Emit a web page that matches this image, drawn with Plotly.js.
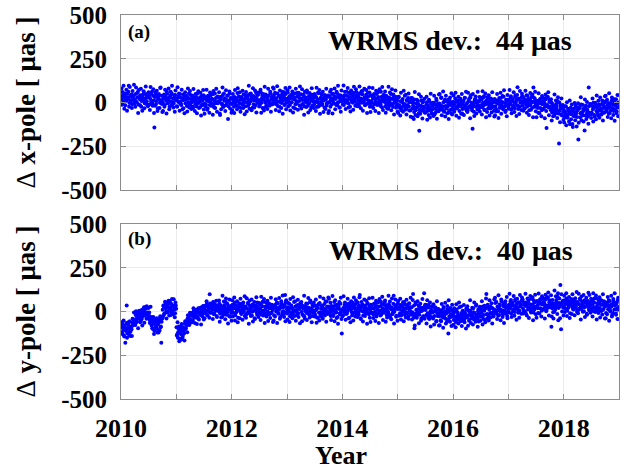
<!DOCTYPE html>
<html>
<head>
<meta charset="utf-8">
<script src="https://cdn.plot.ly/plotly-3.0.1.min.js"></script>
<style>html,body{margin:0;padding:0;background:#fff;}#chart{width:620px;height:469px;}</style>
</head>
<body>
<div id="chart"></div>
<script>
// ---- Data (µas; two interleaved session sets of 80 epochs per year) ----
const years = [2010, 2011, 2012, 2013, 2014, 2015, 2016, 2017, 2018];
const xTickVals = [2010, 2011, 2012, 2013, 2014, 2015, 2016, 2017, 2018, 2019];
const xTickText = ['2010', '', '2012', '', '2014', '', '2016', '', '2018', ''];
const yTickVals = [-500, -250, 0, 250, 500];
const yTickText = ['-500', '-250', '0', '250', '500'];
const wrmsX = 44;
const wrmsY = 40;

// x-pole, session set A
const xPole2010 = [37,17,60,3,29,43,-16,32,10,51,22,95,-3,34,13,46,-10,27,40,6,
  14,49,3,28,60,-11,33,18,42,-25,25,37,11,53,-4,21,47,7,30,-17,
  34,-11,21,53,4,-5,39,11,-143,-18,45,8,31,-33,18,40,-1,85,14,-8,
  1,22,46,-14,35,10,61,-3,15,29,-24,38,5,51,-12,23,-6,26,43,13];
const xPole2011 = [15,-24,27,36,-2,49,4,-15,23,13,-33,31,42,-5,19,-20,28,2,51,-7,
  -17,20,2,39,-32,15,29,-9,11,-23,50,-4,24,4,-27,32,-15,9,18,42,
  35,-6,-22,14,27,-35,7,21,-14,40,-1,17,-19,48,-8,12,-31,25,1,30,
  -4,28,6,-72,19,33,-11,43,-25,10,24,-16,15,-2,38,-21,5,52,-7,23];
const xPole2012 = [-9,25,12,-25,31,-2,19,-18,54,7,36,-5,17,-31,28,14,-12,45,2,22,
  -22,25,2,42,16,-9,48,6,32,20,-30,37,13,28,-16,55,23,-2,44,9,
  -8,14,57,-1,40,18,-33,31,8,45,-18,26,11,39,-5,4,53,21,-11,34,
  13,43,26,-6,23,-12,51,5,38,-24,29,15,-3,61,10,35,-14,46,22,1];
const xPole2013 = [-2,56,7,33,-15,24,0,47,36,-28,18,28,-10,9,54,3,41,32,-19,20,
  47,23,14,-10,37,-22,9,29,1,55,-18,16,-4,34,20,-27,44,7,25,-12,
  35,6,30,-26,17,-3,53,-14,22,4,45,-9,26,12,-30,32,19,-17,-1,40,
  33,3,62,15,-11,48,8,25,-6,34,20,-15,53,-1,43,29,-29,16,38,6];
const xPole2014 = [8,28,-15,42,16,2,61,13,35,-6,23,-24,48,11,32,-1,55,18,5,39,
  26,-9,37,12,-20,51,7,22,-2,65,15,3,29,-13,44,19,-7,33,10,57,
  -4,41,9,-23,26,35,-9,19,4,48,-15,22,-1,63,12,-10,31,-27,16,38,
  24,3,-21,39,-10,15,-36,28,10,-4,49,-13,20,-26,37,2,31,-1,-18,12];
const xPole2015 = [-10,29,-22,-31,7,-44,1,20,-18,-8,38,-26,-37,10,-14,25,-23,3,-46,12,
  2,-35,-17,-95,17,-30,-44,-6,-26,8,-65,-162,-39,-19,12,-47,0,-24,-33,-57,
  -55,-14,2,-34,-47,15,-27,-41,-6,-60,-19,-37,-1,-68,-12,-32,11,-45,-21,-50,
  -6,-38,-16,29,-29,-43,1,-53,15,-20,-34,6,-25,-8,-48,11,-15,-62,-3,-33];
const xPole2016 = [4,-41,-9,23,-26,-35,9,-19,-4,-48,15,-22,1,-63,-12,10,-31,27,-16,-38,
  -5,-44,7,16,-22,29,-16,-35,-150,-7,-53,11,22,-25,-1,-40,8,-18,31,-27,
  -16,19,-27,-2,30,-41,3,-12,12,-55,-5,7,-19,23,-34,-9,17,-23,0,-47,
  20,-21,-37,-1,12,-50,-8,6,-29,25,-16,2,-34,33,-23,-3,-46,10,-14,15];
const xPole2017 = [-27,10,-8,29,-42,5,19,-19,1,-33,40,-14,14,87,-37,22,-25,-1,8,32,
  -19,2,26,-34,15,-10,41,-23,-5,9,-44,18,-15,31,-32,3,85,6,23,-7,
  -24,8,-14,-59,-1,13,-31,23,-45,-10,4,-36,-5,-22,18,-146,-15,32,-27,3,
  -23,-43,0,-57,-31,-17,-76,-28,-50,-9,-38,9,-63,-235,-47,-14,-70,-33,-20,-54];
const xPole2018 = [-41,-86,-54,-22,-71,-80,-36,-64,-49,-125,-30,-67,-44,-140,-57,-35,-76,-18,-61,-83,
  -45,-212,-33,-24,-62,-11,-56,-75,-37,-47,-160,-29,-18,-65,-41,-80,85,-58,-9,-67,
  -57,-20,-38,-1,-72,-25,-11,-49,-29,-63,10,-44,-16,-36,-67,-8,-55,-31,-22,2,
  5,-36,-52,-16,-3,-65,-23,-9,-44,10,-31,-13,-49,18,-38,-18,-61,-5,-29,0];

// x-pole, session set B
const xPoleB2010 = [80,-13,37,95,-36,52,11,73,-47,30,61,-24,88,3,43,-32,66,19,102,-6,
  -25,86,1,54,-60,71,28,-16,79,9,-47,45,64,-33,23,92,-8,35,-22,58,
  44,-43,89,6,61,-18,76,-60,32,55,-9,67,-49,25,48,-32,83,-1,39,-55,
  -48,36,-25,73,21,-63,50,-5,80,-39,28,62,-15,95,3,-29,41,-53,68,16];
const xPoleB2011 = [-21,87,4,51,-47,28,-12,73,-39,46,15,-62,58,-4,37,-51,80,22,-28,65,
  43,-37,20,-23,77,8,-48,49,30,-62,-6,64,-31,13,56,-75,39,-14,71,-40,
  -65,29,-11,73,-42,38,15,-59,57,-19,45,22,-70,66,-28,51,-4,79,-53,34,
  6,58,-63,31,-39,-7,85,-25,52,18,-49,70,-15,40,-95,11,63,-35,26,-58];
const xPoleB2012 = [-45,48,-2,-60,71,-17,24,-38,82,5,-26,59,-53,32,-8,67,-31,16,-67,41,
  60,-51,34,-19,95,-36,7,51,-44,26,82,-10,-29,68,12,-57,43,0,57,-23,
  -14,73,-59,24,-31,48,-46,90,-2,-25,39,-37,79,5,-18,62,-53,31,-9,85,
  78,-6,55,-43,9,93,-20,35,-50,69,2,-32,45,-65,27,59,-11,83,-38,14];
const xPoleB2013 = [70,-23,27,85,-46,42,1,63,-57,20,51,-34,78,-7,33,-42,56,9,92,-16,
  -35,76,-9,44,-70,61,18,-26,69,-1,-57,35,54,-43,13,82,-18,25,-32,48,
  39,-48,84,1,56,-23,71,-65,27,50,-14,62,-54,20,43,-37,78,-6,34,-60,
  -48,36,-25,73,21,-63,50,-5,80,-39,28,62,-15,95,3,-29,41,-53,68,16];
const xPoleB2014 = [-11,97,14,61,-37,38,-2,83,-29,56,25,-52,68,6,47,-41,90,32,-18,75,
  58,-22,35,-8,92,23,-33,64,45,-47,9,79,-16,28,71,-60,54,1,86,-25,
  -55,39,-1,83,-32,48,25,-49,67,-9,55,32,-60,76,-18,61,6,89,-43,44,
  11,63,-58,36,-34,-2,90,-20,57,23,-44,75,-10,45,-68,16,68,-30,31,-53];
const xPoleB2015 = [-60,33,-17,-75,56,-32,9,-53,67,-10,-41,44,-68,17,-23,52,-46,1,-82,26,
  25,-86,-1,-54,60,-71,-28,16,-79,-9,47,-45,-64,33,-23,-92,8,-35,22,-58,
  -54,33,-99,-16,-71,8,-86,50,-42,-65,-1,-77,39,-35,-58,22,-93,-9,-49,45,
  48,-36,25,-73,-21,63,-50,5,-80,39,-28,-62,15,-95,-3,29,-41,53,-68,-16];
const xPoleB2016 = [40,-53,-3,55,-76,12,-29,33,-87,-10,21,-64,48,-37,3,-72,26,-21,62,-46,
  -55,56,-29,24,-90,41,-2,-46,49,-21,-77,15,34,-63,-7,62,-38,5,-52,28,
  19,-68,64,-19,36,-43,51,-85,7,30,-34,42,-74,0,23,-57,58,-26,14,-80,
  -73,11,-50,48,-4,-88,25,-30,55,-64,3,37,-40,70,-22,-54,16,-78,43,-9];
const xPoleB2017 = [-36,72,-11,36,-62,13,-27,58,-54,31,0,-77,43,-19,22,-66,65,7,-43,50,
  33,-47,10,-33,67,-2,-58,39,20,-72,-16,54,-41,3,46,-85,29,-24,61,-50,
  -85,9,-31,53,-62,18,-5,-79,37,-39,25,2,-90,46,-48,31,-24,59,-73,14,
  -34,18,-103,-9,-79,-47,45,-65,12,-22,-89,30,-55,0,-113,-29,23,-75,-14,-98];
const xPoleB2018 = [-115,-22,-72,-130,1,-87,-46,-108,12,-65,-96,-11,-123,-38,-78,-3,-101,-54,-137,-29,
  -5,-116,-31,-84,30,-101,-58,-14,-109,-39,17,-75,-94,3,-53,-122,-22,-65,-8,-88,
  -64,23,-109,-26,-81,-2,-96,40,-52,-75,-11,-87,29,-45,-68,12,-103,-19,-59,35,
  38,-46,15,-83,-31,53,-60,-5,-90,29,-38,-72,5,-105,-13,19,-51,43,-78,-26];

// y-pole, session set A
const yPole2010 = [-85,-120,-70,-105,-135,-92,-178,-110,35,-125,-95,-60,-115,-140,-88,-102,-65,-80,-48,-55,
  -45,-20,-62,-35,-10,-40,5,-25,-55,-15,10,-30,0,25,-20,15,-8,30,-5,20,
  -20,-45,-60,-35,-80,-95,-55,-70,-110,-65,-85,-50,-100,-75,-120,-60,-40,-90,-178,-30,
  10,35,-15,25,50,0,30,-5,45,20,60,15,-20,40,5,28,70,12,-10,35];
const yPole2011 = [-90,-130,-150,-100,-170,-120,-85,-160,-110,-140,-95,-125,-70,-100,-55,-80,-40,-65,-30,-50,
  -45,-20,-55,-10,-30,5,-35,-15,10,-25,0,-40,15,-5,20,-20,25,5,-10,30,
  15,-10,35,5,45,-20,25,0,98,20,-5,40,10,55,-15,30,5,20,-25,35,
  22,2,45,-12,14,28,-31,17,-5,36,7,54,-18,19,-2,31,-25,12,25,-9];
const yPole2012 = [4,39,-7,18,50,-21,23,8,32,-35,15,27,1,43,-14,11,37,-3,20,-27,
  29,-16,16,48,-1,-10,34,6,21,-23,40,3,26,-38,13,35,-6,52,9,-13,
  -4,17,41,-19,30,5,56,-8,10,24,-29,33,0,46,-17,18,-11,21,38,8,
  17,-22,29,38,0,51,6,-13,25,15,-31,33,44,-3,21,-18,30,95,53,-5];
const yPole2013 = [-12,25,7,44,-27,20,34,-4,16,-18,55,1,29,9,-22,37,-10,14,23,47,
  40,-1,-17,19,32,-30,12,26,-9,45,4,22,-14,53,-3,17,-26,30,6,35,
  1,33,11,-34,24,38,-6,48,-20,15,29,-11,20,3,43,-16,10,57,-2,28,
  -9,25,12,-25,31,-2,19,-18,54,7,36,-5,17,-31,28,14,-12,45,2,-125];
const yPole2014 = [-27,20,-3,37,11,-14,43,1,27,15,-35,32,8,23,-21,50,18,-7,39,4,
  -13,9,52,-6,35,95,-38,26,3,40,-23,21,6,34,-10,-1,48,16,-16,29,
  8,38,21,-11,18,-17,46,0,33,-29,24,10,-8,56,5,30,-19,41,17,-4,
  -7,51,2,28,-20,19,-5,42,31,-33,13,23,-15,4,90,-2,36,27,-24,15];
const yPole2015 = [47,23,14,-10,37,-22,9,29,1,55,-18,16,-4,34,20,-27,44,7,25,-12,
  25,-4,100,-36,-96,-13,43,-24,12,-6,35,-19,16,2,-40,22,9,-27,105,30,
  8,-22,37,-10,-36,23,-17,0,-31,9,-5,-40,28,-26,18,4,-54,-9,13,-19,
  -27,-7,-50,7,-19,-33,26,-22,0,-41,-12,-59,13,-125,-3,-36,20,-17,-30,4];
const yPole2016 = [-14,-49,-3,-28,-60,11,-33,-18,-42,25,-25,-37,-11,-53,4,-21,-47,-7,-30,17,
  -34,11,-21,-53,-4,5,-39,-11,-26,18,-45,-8,-31,33,-18,-40,1,-57,-14,8,
  14,-7,-31,29,-20,5,-46,18,100,-14,39,-23,10,-36,27,-8,21,-11,-28,2,
  10,49,-2,-11,27,-24,21,40,2,12,58,-6,-17,30,6,45,-3,23,-26,32];
const yPole2017 = [3,40,22,59,-12,35,49,11,31,-3,70,16,44,24,-7,52,5,29,38,62,
  60,19,3,39,52,-10,32,46,11,65,24,42,6,73,17,37,-6,50,26,55,
  26,58,36,-9,49,63,19,73,5,40,54,14,45,28,68,9,35,82,23,53,
  52,32,-87,18,44,-40,-1,47,25,66,37,84,-50,49,28,151,-102,42,55,21];
const yPole2018 = [29,64,18,43,75,4,48,33,57,-10,40,52,26,68,11,36,62,22,45,-2,
  54,9,41,73,24,15,59,31,46,2,65,28,51,-13,38,60,19,95,34,12,
  16,37,61,1,50,25,76,12,30,44,-9,53,20,66,3,38,9,41,58,28,
  30,-9,42,51,13,64,19,0,38,28,-18,46,57,10,34,-5,43,17,66,8];

// y-pole, session set B
const yPoleB2010 = [-62,-127,-92,-51,-143,-81,-110,-66,-150,-96,-75,-134,-56,-115,-87,-140,-41,-64,-6,-57,
  -77,2,-56,-17,-95,-5,-33,-62,3,-44,-80,-13,-1,-64,-23,26,-41,-12,-36,22,
  -5,-66,27,-31,-43,-98,-32,-128,-63,-47,-92,-39,-120,-68,-52,-108,-27,-86,-58,-40,
  -29,30,-13,56,19,-40,40,1,61,-23,24,48,-6,71,7,-16,33,-33,52,16];
const yPoleB2011 = [-137,-61,-119,-86,-155,-102,-130,-71,-149,-90,-111,-165,-56,-95,-61,-118,-21,-57,-77,-7,
  -8,-63,-23,-52,19,-28,-65,4,-7,-71,-31,19,-46,-14,17,-74,7,-29,32,-46,
  -39,27,-1,58,-23,33,17,-35,46,-7,38,22,-43,53,-13,42,4,62,-31,30,
  11,63,-58,36,-34,-2,90,-20,57,23,-44,75,-10,45,-68,16,68,-30,31,-53];
const yPoleB2012 = [65,-28,22,80,-51,37,-4,58,-62,15,46,-39,73,-12,28,-47,51,4,87,-21,
  -35,76,-9,44,-70,61,18,-26,69,-1,-57,35,54,-43,13,82,-18,25,-32,48,
  39,-48,84,1,56,-23,71,-65,27,50,-14,62,-54,20,43,-37,78,-6,34,-60,
  -51,33,-28,70,18,-66,47,-8,77,-42,25,59,-18,92,0,-32,38,-56,65,13];
const yPoleB2013 = [-45,48,-2,-60,71,-17,24,-38,82,5,-26,59,-53,32,-8,67,-31,16,-67,41,
  55,-56,29,-24,90,-41,2,46,-49,21,77,-15,-34,63,7,-62,38,-5,52,-28,
  -19,68,-64,19,-36,43,-51,85,-7,-30,34,-42,74,0,-23,57,-58,26,-14,80,
  73,-11,50,-48,4,88,-25,30,-55,64,-3,-37,40,-70,22,54,-16,78,-43,9];
const yPoleB2014 = [-21,87,4,51,-47,28,-12,73,-39,46,15,-62,58,-4,37,-51,80,22,-28,65,
  48,-32,25,-18,82,13,-43,54,35,-57,-1,69,-26,18,61,-70,44,-9,76,-35,
  -60,34,-6,78,-37,43,20,-54,62,-14,50,27,-65,71,-23,56,1,84,-48,39,
  11,63,-58,36,-34,-2,90,-20,57,23,-44,75,-10,45,-68,16,68,-30,31,-53];
const yPoleB2015 = [60,-24,21,73,-45,34,-3,53,-55,14,42,-34,67,-10,26,-41,47,5,79,-18,
  -45,66,-19,34,-80,51,8,-36,59,-11,-67,25,44,-53,3,72,-28,15,-42,38,
  19,-68,64,-19,36,-43,51,-85,7,30,-34,42,-74,0,23,-57,58,-26,14,-80,
  -78,6,-55,43,-9,-93,20,-35,50,-69,-2,32,-45,65,-27,-59,11,-83,38,-14];
const yPoleB2016 = [-75,18,-32,-90,41,-47,-6,-68,52,-25,-56,29,-83,2,-38,37,-61,-14,-97,11,
  30,-81,4,-49,65,-66,-23,21,-74,-4,52,-40,-59,38,-18,-87,13,-30,27,-53,
  -29,58,-74,9,-46,33,-61,75,-17,-40,24,-52,64,-10,-33,47,-68,16,-24,70,
  78,-6,55,-43,9,93,-20,35,-50,69,2,-32,45,-65,27,59,-11,83,-38,14];
const yPoleB2017 = [-6,102,19,66,-32,43,3,88,-24,61,30,-47,73,11,52,-36,95,37,-13,80,
  68,-12,45,2,102,33,-23,74,55,-37,19,89,-6,38,81,-50,64,11,96,-15,
  -35,59,19,103,-12,68,45,-29,87,11,75,52,-40,96,2,81,26,109,-23,64,
  41,93,-28,66,-4,28,120,10,87,53,-14,105,20,75,-38,46,98,0,61,-23];
const yPoleB2018 = [90,-3,47,105,-26,62,21,83,-37,40,71,-14,98,13,53,-22,76,29,112,4,
  -10,101,16,69,-45,86,43,-1,94,24,-32,60,79,-18,38,107,7,50,-7,73,
  59,-28,104,21,76,-3,91,-45,47,70,6,82,-34,40,63,-17,98,14,54,-40,
  -38,46,-15,83,31,-53,60,5,90,-29,38,72,-5,105,13,-19,51,-43,78,26];

const xPoleA = [xPole2010, xPole2011, xPole2012, xPole2013, xPole2014, xPole2015, xPole2016, xPole2017, xPole2018];
const xPoleB = [xPoleB2010, xPoleB2011, xPoleB2012, xPoleB2013, xPoleB2014, xPoleB2015, xPoleB2016, xPoleB2017, xPoleB2018];
const yPoleA = [yPole2010, yPole2011, yPole2012, yPole2013, yPole2014, yPole2015, yPole2016, yPole2017, yPole2018];
const yPoleB = [yPoleB2010, yPoleB2011, yPoleB2012, yPoleB2013, yPoleB2014, yPoleB2015, yPoleB2016, yPoleB2017, yPoleB2018];

// session epochs: set A and set B interleaved within each year
function buildSeries(setA, setB) {
  const t = [], v = [];
  years.forEach((yr, k) => {
    const a = setA[k], b = setB[k];
    a.forEach((val, i) => { t.push(yr + (i + 0.25) / a.length); v.push(val); });
    b.forEach((val, i) => { t.push(yr + (i + 0.75) / b.length); v.push(val); });
  });
  return {t, v};
}
const sx = buildSeries(xPoleA, xPoleB);
const sy = buildSeries(yPoleA, yPoleB);

const FONT = 'Liberation Serif, Times New Roman, serif';
const AX = '#8c8c8c';
const GRID = '#ebebeb';
const marker = {color: '#0000ff', size: 4, line: {width: 0}};

const traces = [
  {type: 'scatter', mode: 'markers', x: sx.t, y: sx.v, xaxis: 'x', yaxis: 'y', marker: marker, hoverinfo: 'skip'},
  {type: 'scatter', mode: 'markers', x: sy.t, y: sy.v, xaxis: 'x2', yaxis: 'y2', marker: marker, hoverinfo: 'skip'}
];

function xAxis(anchor, labels) {
  return {
    anchor: anchor, domain: [0, 1], range: [2010, 2019],
    tickmode: 'array', tickvals: xTickVals, ticktext: xTickText,
    showticklabels: labels, ticks: 'inside', ticklen: 5, tickcolor: AX,
    tickfont: {family: FONT, size: 26, color: '#000', weight: 700},
    ticklabelstandoff: 6,
    showline: true, linecolor: AX, linewidth: 1, mirror: 'ticks',
    showgrid: true, gridcolor: GRID, zeroline: false, automargin: false
  };
}
function yAxis(anchor, domain, title) {
  return {
    anchor: anchor, domain: domain, range: [-500, 500],
    tickmode: 'array', tickvals: yTickVals, ticktext: yTickText,
    ticks: 'inside', ticklen: 5, tickcolor: AX,
    tickfont: {family: FONT, size: 25, color: '#000', weight: 700},
    ticklabelstandoff: 8,
    showline: true, linecolor: AX, linewidth: 1, mirror: 'ticks',
    showgrid: true, gridcolor: GRID, zeroline: false, automargin: false,
    title: {text: title, font: {family: FONT, size: 27, color: '#000', weight: 700}, standoff: 17}
  };
}

const layout = {
  width: 620, height: 469,
  margin: {l: 121, r: 1, t: 15, b: 70},
  paper_bgcolor: '#fff', plot_bgcolor: '#fff',
  showlegend: false,
  font: {family: FONT, color: '#000', weight: 700},
  xaxis: xAxis('y', false),
  yaxis: yAxis('x', [0.5443, 1], '<span style="font-weight:normal">Δ</span> x-pole [ μas ]'),
  xaxis2: xAxis('y2', true),
  yaxis2: yAxis('x2', [0, 0.4557], '<span style="font-weight:normal">Δ</span> y-pole [ μas ]'),
  annotations: [
    {xref: 'x domain', yref: 'y domain', x: 0.01, y: 0.903, xanchor: 'left', yanchor: 'middle', showarrow: false,
     text: '(a)', font: {family: FONT, size: 19, weight: 700}},
    {xref: 'x domain', yref: 'y domain', x: 0.66, y: 0.857, xanchor: 'center', yanchor: 'middle', showarrow: false,
     text: 'WRMS dev.:  ' + wrmsX + ' μas', font: {family: FONT, size: 28, weight: 700}},
    {xref: 'x2 domain', yref: 'y2 domain', x: 0.01, y: 0.914, xanchor: 'left', yanchor: 'middle', showarrow: false,
     text: '(b)', font: {family: FONT, size: 19, weight: 700}},
    {xref: 'x2 domain', yref: 'y2 domain', x: 0.663, y: 0.851, xanchor: 'center', yanchor: 'middle', showarrow: false,
     text: 'WRMS dev.:  ' + wrmsY + ' μas', font: {family: FONT, size: 28, weight: 700}},
    {xref: 'paper', yref: 'paper', x: 0.442, y: -0.148, xanchor: 'center', yanchor: 'middle', showarrow: false,
     text: 'Year', font: {family: FONT, size: 26, weight: 700}}
  ]
};

Plotly.newPlot('chart', traces, layout, {displayModeBar: false, staticPlot: true});
</script>
</body>
</html>
